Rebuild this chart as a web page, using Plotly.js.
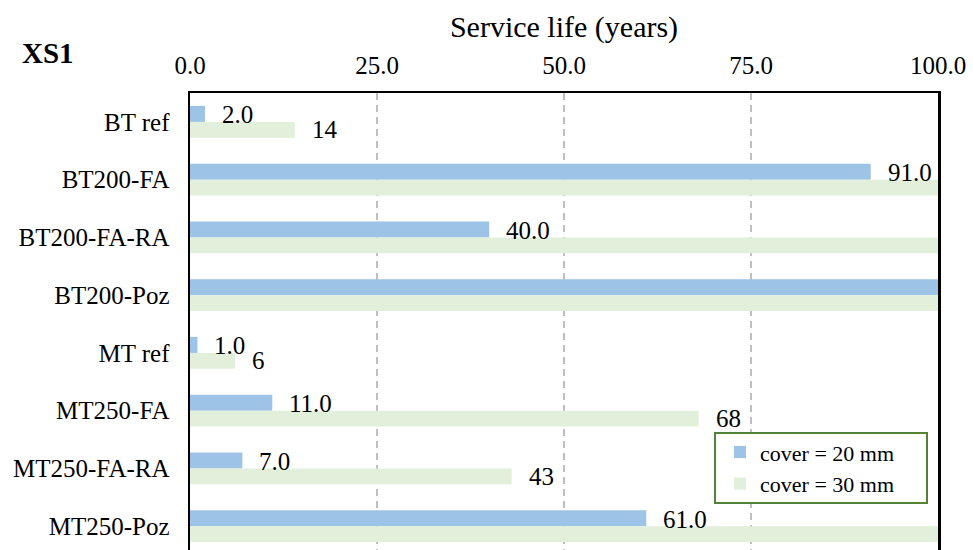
<!DOCTYPE html>
<html>
<head>
<meta charset="utf-8">
<script src="https://cdn.plot.ly/plotly-3.0.1.min.js"></script>
<style>
html, body { margin:0; padding:0; background:#fff; overflow:hidden; }
#wrap { width:973px; height:550px; overflow:hidden; }
#chart { width:973px; height:560px; }
</style>
</head>
<body>
<div id="wrap"><div id="chart"></div></div>
<script>
const categories = ["BT ref","BT200-FA","BT200-FA-RA","BT200-Poz","MT ref","MT250-FA","MT250-FA-RA","MT250-Poz"];
// values at 100 run past the axis maximum (clipped in the original)
const cover20 = [2, 91, 40, 100, 1, 11, 7, 61];
const cover30 = [14, 100, 100, 100, 6, 68, 43, 100];
const seriesNames = ["cover = 20 mm", "cover = 30 mm"];
const xTicks = [0, 25, 50, 75, 100];

const FONT = 'Liberation Serif, Times New Roman, serif';
const blue = '#9DC3E6', green = '#E2EFDA';

const traces = [
  {type:'bar', orientation:'h', name:seriesNames[0], y:categories, x:cover20,
   marker:{color:blue}, hoverinfo:'x+y'},
  {type:'bar', orientation:'h', name:seriesNames[1], y:categories, x:cover30,
   marker:{color:green}, hoverinfo:'x+y'}
];

const annotations = [];
cover20.forEach((v,i)=>{
  if (v < 100) annotations.push({x:v, y:categories[i], xref:'x', yref:'y', text:v.toFixed(1),
    showarrow:false, xanchor:'left', yanchor:'middle', xshift:15, yshift:7,
    font:{family:FONT, size:25, color:'#000'}});
});
cover30.forEach((v,i)=>{
  if (v < 100) annotations.push({x:v, y:categories[i], xref:'x', yref:'y', text:String(v),
    showarrow:false, xanchor:'left', yanchor:'middle', xshift:15, yshift:-8,
    font:{family:FONT, size:25, color:'#000'}});
});
annotations.push({xref:'paper', yref:'paper', x:-0.19, y:1.087, xanchor:'center', yanchor:'middle',
  text:'<b>XS1</b>', showarrow:false, font:{family:FONT, size:29, color:'#000'}});

// legend frame (Excel-style box wider than the entries)
const shapes = [{type:'rect', xref:'paper', yref:'paper', x0:0.7019, x1:0.9853, y0:0.1126, y1:0.2641,
  fillcolor:'#fff', line:{color:'#548235', width:2}, layer:'above'}];

const layout = {
  width:973, height:560,
  margin:{l:190, r:35, t:93, b:5},
  paper_bgcolor:'#fff', plot_bgcolor:'#fff',
  barmode:'group', bargap:0.446, bargroupgap:0,
  font:{family:FONT, color:'#000'},
  showlegend:true,
  legend:{x:0.7086, y:0.268, xanchor:'left', yanchor:'top', traceorder:'normal',
    bgcolor:'rgba(0,0,0,0)', borderwidth:0,
    font:{family:FONT, size:22, color:'#000'}},
  xaxis:{side:'top', range:[0,100], tickvals:xTicks, tickformat:'.1f',
    ticks:'', ticklabelstandoff:7,
    tickfont:{family:FONT, size:25, color:'#000'},
    title:{text:'Service life (years)', font:{family:FONT, size:30, color:'#000'}, standoff:6},
    showgrid:true, gridcolor:'#BFBFBF', gridwidth:1.5, griddash:'7px,5px',
    zeroline:false, showline:true, mirror:true, linecolor:'#000', linewidth:2, fixedrange:true},
  yaxis:{type:'category', categoryorder:'array', categoryarray:categories, autorange:'reversed',
    ticks:'', ticklabelstandoff:13,
    tickfont:{family:FONT, size:25, color:'#000'},
    showgrid:false, zeroline:false, showline:true, mirror:true, linecolor:'#000', linewidth:2.5, fixedrange:true},
  shapes:shapes,
  annotations:annotations
};

Plotly.newPlot('chart', traces, layout, {displayModeBar:false, staticPlot:true});
</script>
</body>
</html>
